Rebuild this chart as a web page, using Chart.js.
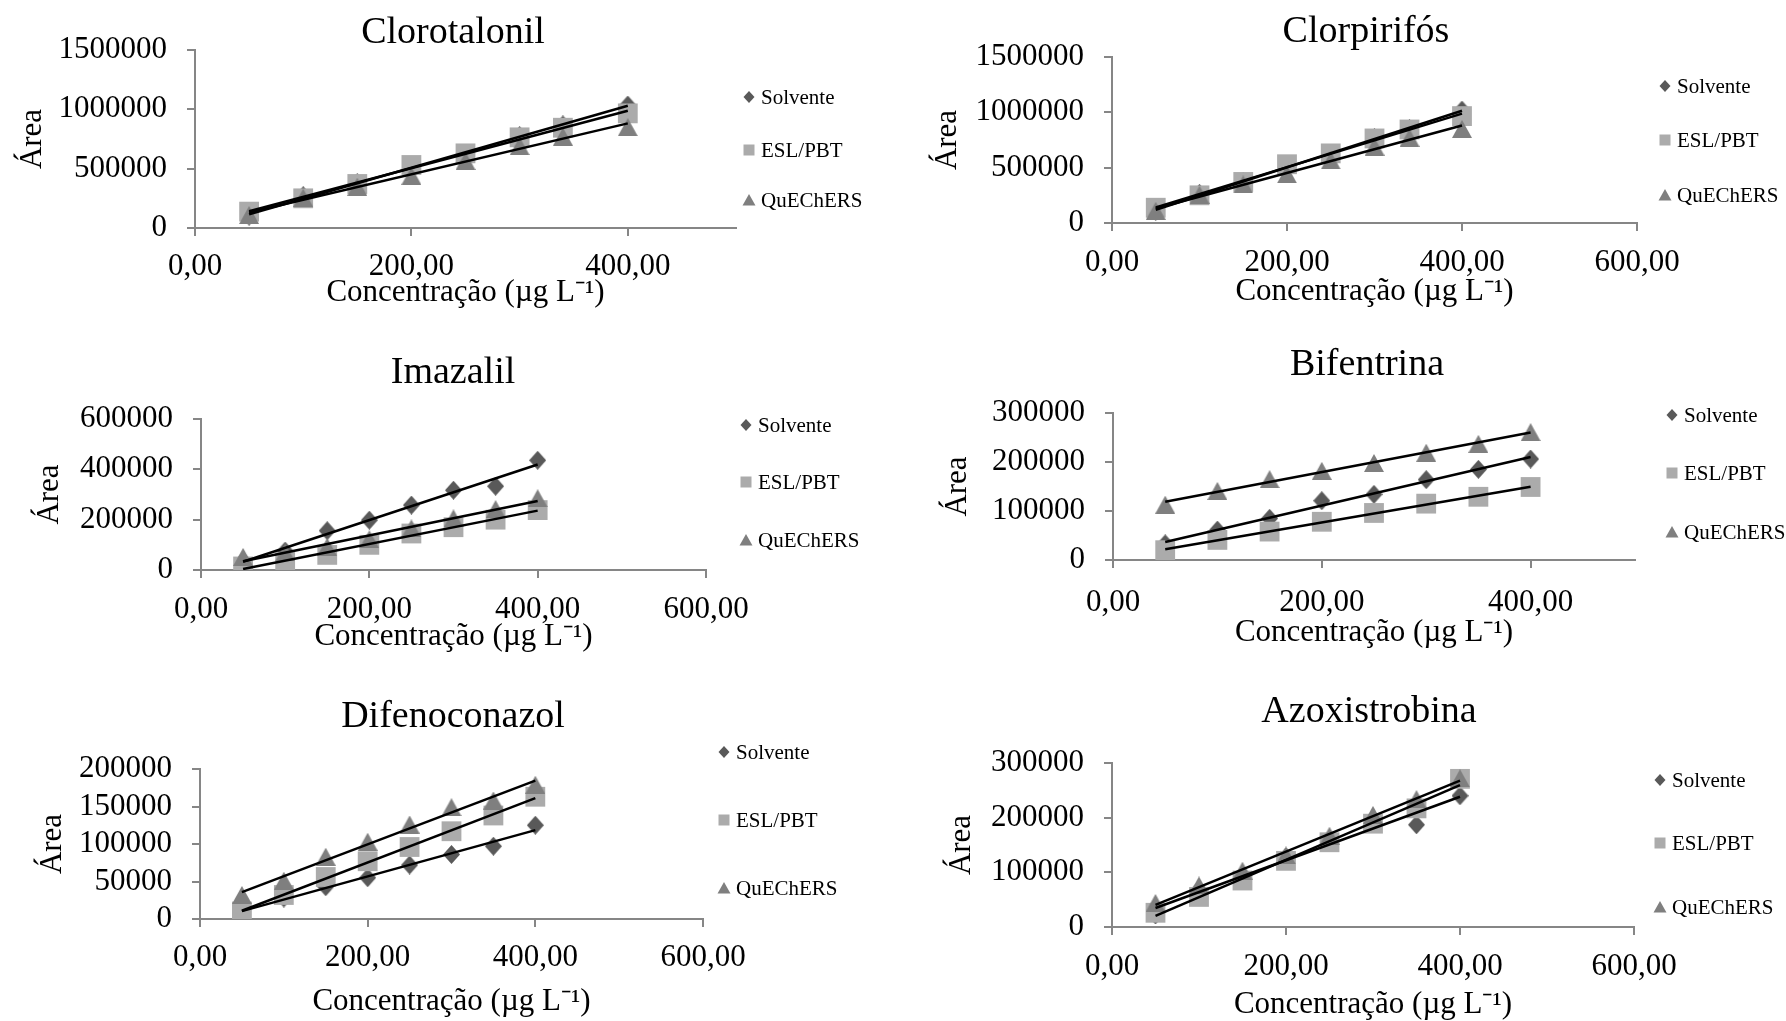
<!DOCTYPE html>
<html>
<head>
<meta charset="utf-8">
<script src="https://cdn.jsdelivr.net/npm/chart.js@4.4.1/dist/chart.umd.min.js"></script>
<style>
html,body{margin:0;padding:0;background:#fff;}
#wrap{position:relative;width:1786px;height:1021px;overflow:hidden;background:#fff;}
#wrap canvas{position:absolute;left:0;top:0;}
</style>
</head>
<body>
<div id="wrap"></div>
<script>
// ---------------- DATA ----------------
const seriesNames = ['Solvente', 'ESL/PBT', 'QuEChERS'];
const xAxisTitle = 'Concentração (µg L⁻¹)';
const yAxisTitle = 'Área';

const concentrationsA = [50, 100, 150, 200, 250, 300, 340, 400];
const concentrationsB = [50, 100, 150, 200, 250, 300, 350, 400];

const clorotalonilSolvente = [101000, 272000, 380000, 500000, 620000, 778000, 868000, 1036000];
const clorotalonilESL      = [138000, 250000, 371000, 531000, 629000, 764000, 845000, 966000];
const clorotalonilQuE      = [110000, 255000, 348000, 440000, 565000, 690000, 770000, 850000];

const clorpirifosSolvente  = [108000, 268000, 372000, 505000, 612000, 772000, 850000, 1020000];
const clorpirifosESL       = [138000, 250000, 371000, 531000, 629000, 764000, 845000, 966000];
const clorpirifosQuE       = [110000, 255000, 348000, 440000, 565000, 690000, 770000, 850000];

const imazalilSolvente     = [35000, 75000, 156000, 198000, 258000, 317000, 333000, 436000];
const imazalilESL          = [14000, 32000, 60000, 100000, 145000, 170000, 200000, 238000];
const imazalilQuE          = [52000, 70000, 92000, 122000, 165000, 205000, 242000, 285000];

const bifentrinaSolvente   = [33000, 61000, 85000, 121000, 134000, 164000, 185000, 206000];
const bifentrinaESL        = [20000, 41000, 58000, 78000, 96000, 115000, 129000, 149000];
const bifentrinaQuE        = [113000, 141000, 165000, 182000, 198000, 219000, 237000, 261000];

const difenoconazolSolvente = [10000, 28000, 43000, 55000, 72000, 86000, 97000, 125000];
const difenoconazolESL      = [10000, 32000, 56000, 77000, 96000, 117000, 138000, 163000];
const difenoconazolQuE      = [32000, 51000, 83000, 103000, 126000, 149000, 158000, 179000];

const azoxistrobinaSolvente = [22000, 68000, 95000, 128000, 160000, 192000, 187000, 240000];
const azoxistrobinaESL      = [26000, 55000, 85000, 121000, 155000, 189000, 217000, 271000];
const azoxistrobinaQuE      = [44000, 76000, 103000, 131000, 167000, 205000, 234000, 272000];

const panels = [
  {title: 'Clorotalonil', x: concentrationsA, ys: [clorotalonilSolvente, clorotalonilESL, clorotalonilQuE], yMax: 1500000, yStep: 500000, xMax: 500},
  {title: 'Clorpirifós', x: concentrationsA, ys: [clorpirifosSolvente, clorpirifosESL, clorpirifosQuE], yMax: 1500000, yStep: 500000, xMax: 600},
  {title: 'Imazalil', x: concentrationsB, ys: [imazalilSolvente, imazalilESL, imazalilQuE], yMax: 600000, yStep: 200000, xMax: 600},
  {title: 'Bifentrina', x: concentrationsB, ys: [bifentrinaSolvente, bifentrinaESL, bifentrinaQuE], yMax: 300000, yStep: 100000, xMax: 500},
  {title: 'Difenoconazol', x: concentrationsB, ys: [difenoconazolSolvente, difenoconazolESL, difenoconazolQuE], yMax: 200000, yStep: 50000, xMax: 600},
  {title: 'Azoxistrobina', x: concentrationsB, ys: [azoxistrobinaSolvente, azoxistrobinaESL, azoxistrobinaQuE], yMax: 300000, yStep: 100000, xMax: 600}
];

// ---------------- LAYOUT (page pixels) ----------------
const layouts = [
  {L: 195,  R: 736,  T: 50,  B: 228, titleX: 453,  titleY: 33,  xTickY: 267, xTitleY: 293,  yTitleX: 33,  legX: 749,  legRows: [97, 150, 200]},
  {L: 1112, R: 1637, T: 57,  B: 223, titleX: 1366, titleY: 32,  xTickY: 263, xTitleY: 292,  yTitleX: 948, legX: 1665, legRows: [86, 140, 195]},
  {L: 201,  R: 706,  T: 419, B: 570, titleX: 453,  titleY: 373, xTickY: 610, xTitleY: 637,  yTitleX: 50,  legX: 746,  legRows: [425, 482, 540]},
  {L: 1113, R: 1635, T: 413, B: 560, titleX: 1367, titleY: 365, xTickY: 603, xTitleY: 633,  yTitleX: 958, legX: 1672, legRows: [415, 473, 532]},
  {L: 200,  R: 703,  T: 769, B: 919, titleX: 453,  titleY: 717, xTickY: 958, xTitleY: 1002, yTitleX: 53,  legX: 724,  legRows: [752, 820, 888]},
  {L: 1112, R: 1634, T: 763, B: 927, titleX: 1369, titleY: 712, xTickY: 967, xTitleY: 1005, yTitleX: 962, legX: 1660, legRows: [780, 843, 907]}
];

const PAGE_W = 1786, PAGE_H = 1021;
const FAMILY = '"Liberation Serif", "Times New Roman", serif';
const AXIS_COLOR = '#868686';
const COLORS = ['#595959', '#ababab', '#7f7f7f'];
const TICK_SIZE = 31, AXTITLE_SIZE = 31, TITLE_SIZE = 38, LEGEND_SIZE = 21;
const TICK_LEN = 8;

// marker images (Excel-like: shape centred on its bounding box)
function makeDiamond(w, h, color) {
  const c = document.createElement('canvas'); c.width = w; c.height = h;
  const g = c.getContext('2d'); g.fillStyle = color;
  g.beginPath(); g.moveTo(w / 2, 0); g.lineTo(w, h / 2); g.lineTo(w / 2, h); g.lineTo(0, h / 2); g.closePath(); g.fill();
  return c;
}
function makeTriangle(w, h, color) {
  const c = document.createElement('canvas'); c.width = w; c.height = h;
  const g = c.getContext('2d'); g.fillStyle = color;
  g.beginPath(); g.moveTo(w / 2, 0); g.lineTo(w, h); g.lineTo(0, h); g.closePath(); g.fill();
  return c;
}
const diamondImg = makeDiamond(17, 19, COLORS[0]);
const triangleImg = makeTriangle(20, 18, COLORS[2]);
const pointStyles = [diamondImg, 'rect', triangleImg];
const pointRadii = [9, 14, 10];

function regression(xs, ys) {
  const n = xs.length;
  let sx = 0, sy = 0, sxx = 0, sxy = 0;
  for (let i = 0; i < n; i++) { sx += xs[i]; sy += ys[i]; sxx += xs[i] * xs[i]; sxy += xs[i] * ys[i]; }
  const b = (n * sxy - sx * sy) / (n * sxx - sx * sx);
  const a = (sy - b * sx) / n;
  return {a, b};
}

// legend drawn beside each plot
const sideLegend = {
  id: 'sideLegend',
  afterDraw(chart, args, opts) {
    const ctx = chart.ctx;
    ctx.save();
    opts.rows.forEach((y, k) => {
      const x = opts.x;
      ctx.fillStyle = COLORS[k];
      ctx.beginPath();
      if (k === 0) { ctx.moveTo(x, y - 6); ctx.lineTo(x + 5.5, y); ctx.lineTo(x, y + 6); ctx.lineTo(x - 5.5, y); }
      else if (k === 1) { ctx.rect(x - 5.5, y - 5.5, 11, 11); }
      else { ctx.moveTo(x, y - 6); ctx.lineTo(x + 6.5, y + 5.5); ctx.lineTo(x - 6.5, y + 5.5); }
      ctx.closePath(); ctx.fill();
      ctx.fillStyle = '#000';
      ctx.font = LEGEND_SIZE + 'px ' + FAMILY;
      ctx.textAlign = 'left'; ctx.textBaseline = 'middle';
      ctx.fillText(chart.data.datasets[k].label, x + 12, y + 1);
    });
    ctx.restore();
  }
};

const wrap = document.getElementById('wrap');

panels.forEach((p, i) => {
  const lay = layouts[i];
  const cv = document.createElement('canvas');
  cv.width = PAGE_W; cv.height = PAGE_H;
  cv.style.width = PAGE_W + 'px'; cv.style.height = PAGE_H + 'px';
  wrap.appendChild(cv);

  const datasets = [];
  p.ys.forEach((ys, k) => {
    datasets.push({
      label: seriesNames[k],
      data: p.x.map((xv, j) => ({x: xv, y: ys[j]})),
      pointStyle: pointStyles[k],
      pointRadius: pointRadii[k],
      pointHoverRadius: pointRadii[k],
      backgroundColor: COLORS[k],
      borderColor: COLORS[k],
      borderWidth: 0,
      order: 3 - k
    });
  });
  p.ys.forEach((ys, k) => {
    const r = regression(p.x, ys);
    const x0 = Math.min(...p.x), x1 = Math.max(...p.x);
    datasets.push({
      label: 'Linear (' + seriesNames[k] + ')',
      data: [{x: x0, y: r.a + r.b * x0}, {x: x1, y: r.a + r.b * x1}],
      showLine: true,
      borderColor: '#000',
      borderWidth: 2.5,
      pointRadius: 0,
      pointHoverRadius: 0,
      order: 0
    });
  });

  const axTitleLH = AXTITLE_SIZE * 1.2;
  const tickLH = TICK_SIZE * 1.2;
  const yAxisW = lay.L - lay.yTitleX + axTitleLH / 2;
  const xAxisH = lay.xTitleY - lay.B + axTitleLH / 2;
  const xTickPad = lay.xTickY - lay.B - TICK_LEN - tickLH / 2;
  const gap = lay.T - lay.titleY;
  const padLeft = lay.L - yAxisW;
  // invisible right-hand spacer (room taken by the legend) so the title centres like the original
  const spacerW = 2 * lay.titleX - padLeft - lay.R;
  const padRight = PAGE_W - lay.R - spacerW;

  new Chart(cv, {
    type: 'scatter',
    data: {datasets},
    plugins: [sideLegend],
    options: {
      responsive: false,
      animation: false,
      events: [],
      layout: {padding: {left: padLeft, right: padRight, top: lay.titleY - 11, bottom: PAGE_H - lay.B - xAxisH}},
      plugins: {
        legend: {display: false},
        tooltip: {enabled: false},
        title: {
          display: true, text: p.title, fullSize: true, color: '#000',
          font: {family: FAMILY, size: TITLE_SIZE, weight: 'normal', lineHeight: '22px'},
          padding: {top: 0, bottom: gap - 11}
        },
        sideLegend: {x: lay.legX, rows: lay.legRows}
      },
      scales: {
        x: {
          type: 'linear', min: 0, max: p.xMax,
          afterFit(s) { s.height = xAxisH; },
          ticks: {
            stepSize: 200, includeBounds: false, autoSkip: false, maxRotation: 0,
            padding: xTickPad, color: '#000',
            font: {family: FAMILY, size: TICK_SIZE, lineHeight: 1.2},
            callback: v => v.toFixed(2).replace('.', ',')
          },
          grid: {drawOnChartArea: false, drawTicks: true, tickLength: TICK_LEN, color: AXIS_COLOR, lineWidth: 2},
          border: {display: true, color: AXIS_COLOR, width: 2},
          title: {display: true, text: xAxisTitle, color: '#000', font: {family: FAMILY, size: AXTITLE_SIZE, lineHeight: 1.2}, padding: {top: 0, bottom: 0}}
        },
        y: {
          type: 'linear', min: 0, max: p.yMax,
          afterFit(s) { s.width = yAxisW; },
          ticks: {
            stepSize: p.yStep, autoSkip: false, padding: 20, color: '#000',
            font: {family: FAMILY, size: TICK_SIZE, lineHeight: 1.2},
            callback: v => String(v)
          },
          grid: {drawOnChartArea: false, drawTicks: true, tickLength: TICK_LEN, color: AXIS_COLOR, lineWidth: 2},
          border: {display: true, color: AXIS_COLOR, width: 2},
          title: {display: true, text: yAxisTitle, color: '#000', font: {family: FAMILY, size: AXTITLE_SIZE, lineHeight: 1.2}, padding: {top: 0, bottom: 0}}
        },
        spacer: {
          type: 'linear', position: 'right', min: 0, max: 1, display: true,
          afterFit(s) { s.width = spacerW; },
          ticks: {display: false},
          grid: {display: false, drawTicks: false},
          border: {display: false},
          title: {display: false}
        }
      }
    }
  });
});
</script>
</body>
</html>
